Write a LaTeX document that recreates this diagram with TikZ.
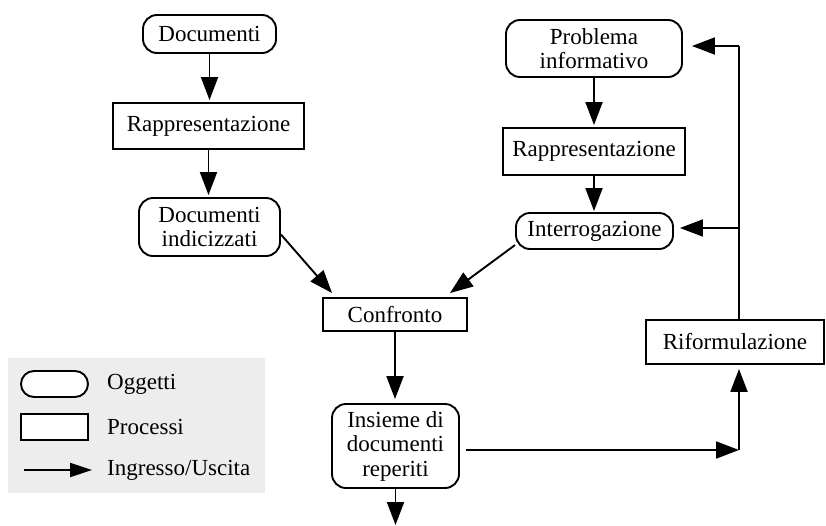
\documentclass[tikz,border=0pt]{standalone}
\usepackage{fontspec}
\setmainfont{Liberation Serif}
\usetikzlibrary{arrows.meta,calc}

\begin{document}
\begin{tikzpicture}[x=1pt,y=-1pt,
  every node/.style={font=\fontsize{23}{24.5}\selectfont, inner sep=0pt, align=center},
  obj/.style={draw, line width=1.9pt, rounded corners=14pt, fill=white},
  proc/.style={draw, line width=1.9pt, fill=white},
  arr/.style={line width=1.9pt, -{Triangle[length=23pt,width=17pt]}},
  plain/.style={line width=1.9pt},
  legendtext/.style={anchor=west}
]
\useasboundingbox (0,0) rectangle (826,525);

% flow on the document side
\node[obj,  minimum width=133pt, minimum height=38pt] (doc)    at (209.5,34)  {Documenti};
\node[proc, minimum width=191pt, minimum height=46pt] (rap1)   at (208.5,126) {Rappresentazione};
\node[obj,  minimum width=141pt, minimum height=58pt] (docidx) at (209.5,227) {Documenti\\indicizzati};

% flow on the query side
\node[obj,  minimum width=176pt, minimum height=57pt] (prob)   at (594,48.5)  {Problema\\informativo};
\node[proc, minimum width=182pt, minimum height=47pt] (rap2)   at (594,151.5) {Rappresentazione};
\node[obj,  minimum width=157pt, minimum height=36pt] (interr) at (594.5,231) {Interrogazione};

% matching and results
\node[proc, minimum width=144pt, minimum height=33pt] (conf)   at (395,314.5) {Confronto};
\node[obj,  minimum width=127pt, minimum height=84pt] (ins)    at (395.5,446) {Insieme di\\documenti\\reperiti};
\node[proc, minimum width=178pt, minimum height=44pt] (rif)    at (735,342)   {Riformulazione};

% routing points
\coordinate (corner) at (739,450);
\coordinate (fbtop)  at (739,46);
\coordinate (fbmid)  at (739,228);
\coordinate (out)    at (395.5,525);

% connectors
\draw[arr, shorten >=2pt] (doc) -- (doc |- rap1.north);
\draw[arr, shorten >=2pt] (rap1) -- (rap1 |- docidx.north);
\draw[arr, shorten >=2pt] (prob) -- (prob |- rap2.north);
\draw[arr, shorten >=1pt] (rap2) -- (rap2 |- interr.north);
\draw[arr] (docidx.-6.5) -- ($(conf.north west)+(10,-4)$);
\draw[arr] (interr.190) -- ($(conf.north east)+(-18,-4)$);
\draw[arr, shorten >=4pt] (conf) -- (conf |- ins.north);
\draw[arr] (ins) -- (out);
\draw[arr, shorten <=6pt] (ins.east |- corner) -- (corner);
\draw[arr, shorten >=4pt] (corner) -- (rif.south -| corner);
\draw[plain] (rif.north -| fbtop) -- (fbtop);
\draw[arr, shorten >=9pt] (fbtop) -- (prob.east |- fbtop);
\draw[arr, shorten >=6pt] (fbmid) -- (interr.east |- fbmid);

% legend
\fill[black!7] (8,358) rectangle (265,493);
\node[obj, rounded corners=13pt, minimum width=67pt, minimum height=26pt] (legobj)  at (54.5,384) {};
\node[proc, minimum width=67pt, minimum height=26pt] (legproc) at (54.5,427) {};
\coordinate (legstart) at (24,470);
\coordinate (legend)   at (92,470);
\draw[line width=1.9pt, -{Triangle[length=22pt,width=14pt]}] (legstart) -- (legend);
\node[legendtext] (tobj)  at (107,384) {Oggetti};
\node[legendtext] (tproc) at (107,427) {Processi};
\node[legendtext] (tio)   at (107,470) {Ingresso/Uscita};
\end{tikzpicture}
\end{document}
